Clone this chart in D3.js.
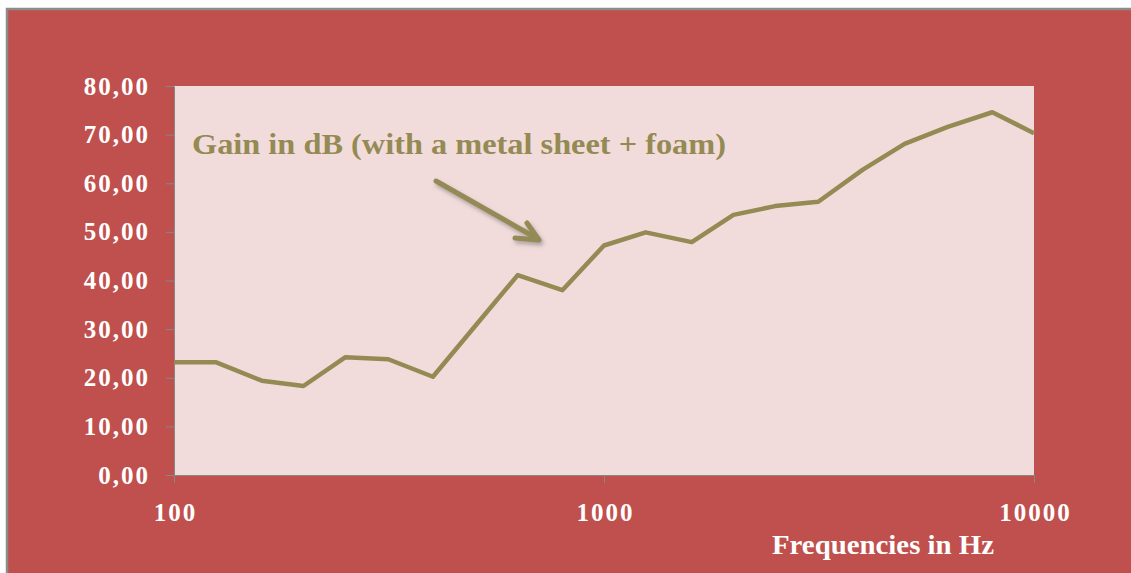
<!DOCTYPE html>
<html>
<head>
<meta charset="utf-8">
<script src="https://cdn.jsdelivr.net/npm/d3@7"></script>
<style>
    body { margin: 0; background: #ffffff; }
    svg { display: block; }
    .axis text { font-family: "Liberation Serif", "Times New Roman", serif; font-weight: bold; fill: #ffffff; }
    .axis path, .axis line { stroke: #868686; }
</style>
</head>
<body>
<div id="chart"></div>
<script>
// Gain vs. frequency (third-octave bands)
const frequencies = [100, 125, 160, 200, 250, 315, 400, 500, 630, 800, 1000,
    1250, 1600, 2000, 2500, 3150, 4000, 5000, 6300, 8000, 10000];
const gainDb = [23.2, 23.2, 19.4, 18.3, 24.2, 23.8, 20.2, 30.5, 41.1, 38.0, 47.2,
    49.9, 47.9, 53.5, 55.3, 56.2, 62.8, 68.1, 71.6, 74.6, 70.3];
const yTicks = [0, 10, 20, 30, 40, 50, 60, 70, 80];
const xTicks = [100, 1000, 10000];
const seriesLabel = 'Gain in dB (with a metal sheet + foam)';
const xTitle = 'Frequencies in Hz';

const width = 1131, height = 573;
const plot = { left: 174, right: 1034, top: 86, bottom: 475 };
const olive = '#948a54';

const svg = d3.select('#chart').append('svg')
    .attr('width', width)
    .attr('height', height);

// Shadow for the annotation arrow
const defs = svg.append('defs');
defs.append('filter')
    .attr('id', 'shadow')
    .attr('x', '-20%').attr('y', '-20%')
    .attr('width', '140%').attr('height', '160%')
    .append('feDropShadow')
    .attr('dx', 2).attr('dy', 3)
    .attr('stdDeviation', 2)
    .attr('flood-color', '#6e6e6e')
    .attr('flood-opacity', 0.55);

// Chart area background with grey frame on top/left
svg.append('rect')
    .attr('x', 7).attr('y', 9)
    .attr('width', width).attr('height', height)
    .attr('fill', '#c0504d')
    .attr('stroke', '#8c8c8c')
    .attr('stroke-width', 2.5);

// Plot area
svg.append('rect')
    .attr('x', plot.left).attr('y', plot.top)
    .attr('width', plot.right - plot.left)
    .attr('height', plot.bottom - plot.top)
    .attr('fill', '#f2dcdb');

const x = d3.scaleLog()
    .domain([100, 10000])
    .range([plot.left, plot.right]);

const y = d3.scaleLinear()
    .domain([0, 80])
    .range([plot.bottom, plot.top]);

const commaFormat = d3.formatLocale({ decimal: ',', thousands: '.', grouping: [3], currency: ['', ''] }).format('.2f');

// Y axis
const yAxis = svg.append('g')
    .attr('class', 'axis')
    .attr('transform', `translate(${plot.left},0)`)
    .call(d3.axisLeft(y)
        .tickValues(yTicks)
        .tickFormat(commaFormat)
        .tickSize(8)
        .tickSizeOuter(0)
        .tickPadding(16));
yAxis.selectAll('text')
    .style('font-size', '25px')
    .style('letter-spacing', '2px');

// X axis
const xAxis = svg.append('g')
    .attr('class', 'axis')
    .attr('transform', `translate(0,${plot.bottom})`)
    .call(d3.axisBottom(x)
        .tickValues(xTicks)
        .tickFormat(d3.format('d'))
        .tickSize(8)
        .tickSizeOuter(0)
        .tickPadding(20));
xAxis.selectAll('text')
    .style('font-size', '25px')
    .style('letter-spacing', '2px')
    .attr('dx', '1px');

// Data line
const line = d3.line()
    .x((d, i) => x(frequencies[i]))
    .y(d => y(d));

svg.append('path')
    .datum(gainDb)
    .attr('fill', 'none')
    .attr('stroke', olive)
    .attr('stroke-width', 4.5)
    .attr('stroke-linejoin', 'round')
    .attr('d', line);

// Annotation text
svg.append('text')
    .attr('x', 192)
    .attr('y', 154)
    .attr('textLength', 534)
    .attr('lengthAdjust', 'spacingAndGlyphs')
    .style('font-family', '"Liberation Serif", "Times New Roman", serif')
    .style('font-weight', 'bold')
    .style('font-size', '29px')
    .attr('fill', olive)
    .text(seriesLabel);

// Annotation arrow
const arrow = svg.append('g')
    .attr('filter', 'url(#shadow)')
    .attr('stroke', olive)
    .attr('stroke-width', 5)
    .attr('stroke-linecap', 'round')
    .attr('stroke-linejoin', 'round')
    .attr('fill', 'none');
arrow.append('path').attr('d', 'M436,181 L538,239');
arrow.append('path').attr('d', 'M527,223 L539,240 L515,238');

// X axis title
svg.append('text')
    .attr('x', 772)
    .attr('y', 554)
    .attr('textLength', 222)
    .attr('lengthAdjust', 'spacingAndGlyphs')
    .style('font-family', '"Liberation Serif", "Times New Roman", serif')
    .style('font-weight', 'bold')
    .style('font-size', '27px')
    .attr('fill', '#ffffff')
    .text(xTitle);
</script>
</body>
</html>
